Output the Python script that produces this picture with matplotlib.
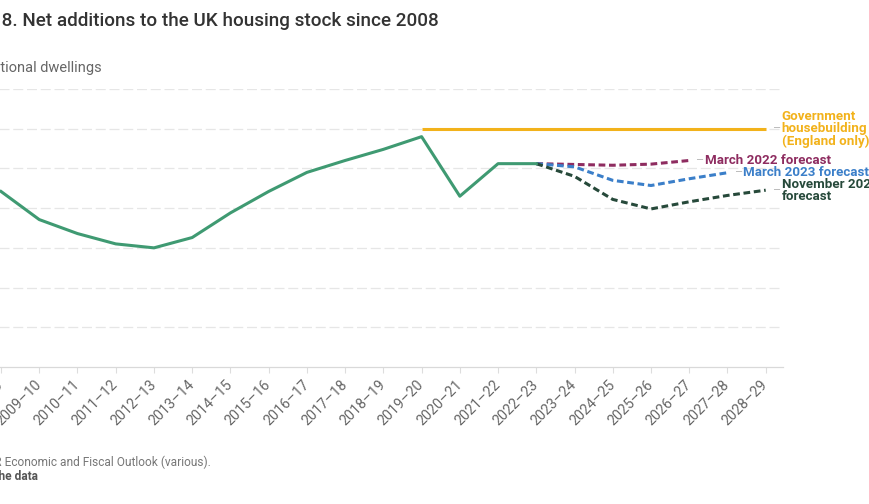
import matplotlib.pyplot as plt
import numpy as np

plt.rcParams['font.family'] = ['Roboto', 'DejaVu Sans']

years = ['2008–09', '2009–10', '2010–11', '2011–12', '2012–13', '2013–14',
         '2014–15', '2015–16', '2016–17', '2017–18', '2018–19', '2019–20',
         '2020–21', '2021–22', '2022–23', '2023–24', '2024–25', '2025–26',
         '2026–27', '2027–28', '2028–29']

# outturn net additions (dwellings), 2008-09 .. 2022-23
outturn = [221000, 185600, 168000, 155000, 150000, 163000, 194000, 221000,
           245000, 260000, 274000, 290000, 215000, 256000, 256000]

# forecasts, starting from the 2022-23 outturn
mar22 = [256000, 255000, 254000, 255400, 260000]              # to 2026-27
mar23 = [256000, 252000, 235000, 228500, 237000, 244600]      # to 2027-28
nov23 = [256000, 240000, 211000, 199000, 208000, 216000, 222600]  # to 2028-29

target = [300000] * 10   # 2019-20 .. 2028-29

c_green = '#3f9a72'
c_gold = '#f2b21b'
c_purple = '#8e2c60'
c_blue = '#3b7fc9'
c_dark = '#26493a'
c_grid = '#e6e6e6'

fig = plt.figure(figsize=(8.69, 5.04), dpi=100)
ax = fig.add_axes([-18.1 / 869, 137 / 504, 801 / 869, 278 / 504])

x = np.arange(len(years))

ax.plot(x[11:], target, color=c_gold, lw=2.2, solid_capstyle='butt', zorder=3)
ax.plot(x[14:19], mar22, color=c_purple, lw=2.2, ls=(0, (2.2, 1.2)), zorder=3)
ax.plot(x[14:20], mar23, color=c_blue, lw=2.2, ls=(0, (2.2, 1.2)), zorder=3)
ax.plot(x[14:21], nov23, color=c_dark, lw=2.2, ls=(0, (2.2, 1.2)), zorder=3)
ax.plot(x[:15], outturn, color=c_green, lw=2.2, zorder=4)

ax.set_xlim(-0.5, 20.45)
ax.set_ylim(0, 350000)
ax.set_yticks(np.arange(50000, 350001, 50000))
ax.tick_params(axis='y', left=False, labelleft=False)
ax.grid(axis='y', color=c_grid, lw=0.9, ls=(0, (8, 3)))
ax.set_axisbelow(True)
for s in ['top', 'right', 'left']:
    ax.spines[s].set_visible(False)
ax.spines['bottom'].set_color('#d9d9d9')
ax.spines['bottom'].set_linewidth(0.9)

ax.set_xticks(x)
ax.set_xticklabels(years, rotation=45, ha='right', va='center',
                   rotation_mode='anchor', color='#666666', fontsize=10.3)
ax.tick_params(axis='x', length=4, width=0.8, color='#dddddd', pad=7)

# line labels with small grey leaders
labels = [
    (20, target[-1], 'Government\nhousebuilding\n(England only)', c_gold),
    (18, mar22[-1], 'March 2022 forecast', c_purple),
    (19, mar23[-1], 'March 2023 forecast', c_blue),
    (20, nov23[-1], 'November 2023\nforecast', c_dark),
]
for lx, ly, txt, col in labels:
    ax.annotate('–', xy=(lx, ly), xytext=(4.5, 0), textcoords='offset points',
                ha='left', va='center', color='#bbbbbb', fontsize=9,
                annotation_clip=False)
    ax.annotate(txt, xy=(lx, ly), xytext=(11.5, 0), textcoords='offset points',
                ha='left', va='center', color=col, fontsize=9.6,
                fontweight='semibold', linespacing=0.92, annotation_clip=False)

fig.text(439 / 869, 1 - 21 / 504,
         'Figure 8. Net additions to the UK housing stock since 2008',
         ha='right', va='center', fontsize=13.6, color='#333333',
         fontweight='medium')
fig.text(102 / 869, 1 - 68 / 504, 'Additional dwellings',
         ha='right', va='center', fontsize=10.5, color='#666666')
fig.text(211 / 869, 1 - 462 / 504,
         'Source: OBR Economic and Fiscal Outlook (various).',
         ha='right', va='center', fontsize=8.6, color='#777777')
fig.text(38 / 869, 1 - 476 / 504, 'Get the data',
         ha='right', va='center', fontsize=8.6, color='#555555',
         fontweight='bold')

fig.savefig('out.png', dpi=100)
